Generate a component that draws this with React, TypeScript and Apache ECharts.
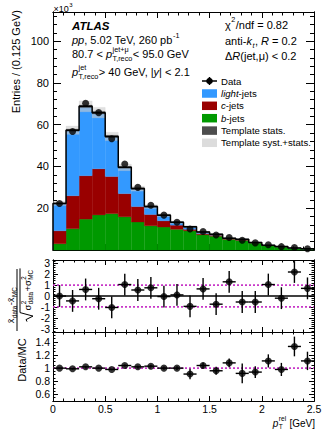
import React, { useEffect, useRef } from "react";
import * as echarts from "echarts";

// ---------------- data ----------------
const binCenters = [0.0625, 0.1875, 0.3125, 0.4375, 0.5625, 0.6875, 0.8125, 0.9375, 1.0625, 1.1875,
  1.3125, 1.4375, 1.5625, 1.6875, 1.8125, 1.9375, 2.0625, 2.1875, 2.3125, 2.4375];
const binHalf = 0.0625;

// entries in units of 10^3
const dataCounts = [22.3, 56.8, 70.3, 65.8, 53.3, 41.2, 30.0, 21.4, 16.7, 13.3, 10.1, 8.9, 7.2, 6.0, 4.7, 3.4, 2.5, 1.6, 1.2, 0.6];
const bJets = [3.0, 10.2, 14.8, 16.8, 17.4, 15.9, 13.4, 11.6, 11.0, 9.9, 9.2, 7.3, 6.6, 5.1, 4.6, 3.3, 2.1, 1.5, 0.8, 0.5];
const cJets = [6.2, 15.8, 20.8, 22.1, 17.8, 11.1, 7.4, 5.4, 3.0, 2.0, 0.7, 0.6, 0.5, 0.3, 0.3, 0.2, 0.1, 0.1, 0.05, 0.02];
const lightJets = [13.1, 31.4, 33.2, 26.9, 19.2, 12.6, 8.6, 3.8, 2.7, 1.4, 1.2, 0.7, 0.4, 0.2, 0.2, 0.1, 0.05, 0.03, 0.05, 0.02];
const templStatErr = [0.3, 0.5, 0.6, 0.6, 0.5, 0.45, 0.4, 0.35, 0.3, 0.28, 0.25, 0.22, 0.2, 0.18, 0.16, 0.14, 0.12, 0.1, 0.08, 0.06];
const templSystErr = [1.0, 2.0, 2.6, 2.5, 2.0, 1.6, 1.2, 0.9, 0.7, 0.6, 0.5, 0.4, 0.35, 0.3, 0.25, 0.2, 0.15, 0.12, 0.1, 0.08];

const pullValues = [0.0, -0.45, 0.6, -0.25, -1.05, 1.05, 0.55, 0.75, -0.05, 0.1, -0.95, 0.65, -0.75, 1.3, -0.55, -0.55, 1.05, -0.2, 2.2, 0.7];
const pullErrors = [1, 1, 1, 1, 1, 1, 1, 1, 1, 1, 1, 1, 1, 1, 1, 1, 1, 1, 1, 1];

const ratioValues = [1.0, 0.99, 1.02, 1.0, 0.98, 1.04, 1.02, 1.03, 1.0, 1.0, 0.91, 1.04, 0.96, 1.08, 0.92, 0.94, 1.11, 0.98, 1.33, 1.11];
const ratioErrors = [0.01, 0.01, 0.01, 0.01, 0.012, 0.015, 0.018, 0.02, 0.025, 0.03, 0.08, 0.045, 0.06, 0.065, 0.15, 0.09, 0.1, 0.1, 0.15, 0.14];

const pullTicks = [-3, -2, -1, 0, 1, 2, 3];
const ratioTicks = [0.6, 0.8, 1, 1.2, 1.4];

// ---------------- styling ----------------
const FAM = '"Liberation Sans"';
const C_LIGHT = "#3399ff";
const C_C = "#990000";
const C_B = "#009900";
const C_STAT = "rgba(60,60,60,0.85)";
const C_SYST = "rgba(205,205,205,0.6)";
const C_MAG = "#c837c8";

let _ctx: CanvasRenderingContext2D | null = null;
function measure(text: string, font: string): number {
  if (!_ctx) _ctx = document.createElement("canvas").getContext("2d");
  _ctx!.font = font;
  return _ctx!.measureText(text).width;
}
function fnt(size: number, italic?: boolean, bold?: boolean) {
  return `${italic ? "italic " : ""}${bold ? "bold " : ""}${size}px ${FAM}`;
}
function txt(x: number, y: number, text: string, font: string) {
  return { type: "text", x, y, style: { text, font, fill: "#000", align: "left", verticalAlign: "middle" } };
}
type Seg = { t: string; i?: boolean; b?: boolean; sup?: string; sub?: string; si?: boolean };
function layout(segs: Seg[], size: number) {
  const els: any[] = [];
  let cx = 0;
  const ss = size * 0.66;
  for (const s of segs) {
    const f = fnt(size, s.i, s.b);
    els.push(txt(cx, 0, s.t, f));
    cx += measure(s.t, f);
    if (s.sup || s.sub) {
      let w = 0;
      const sf = fnt(ss, s.si);
      if (s.sup) { els.push(txt(cx + 0.5, -size * 0.42, s.sup, sf)); w = Math.max(w, measure(s.sup, sf)); }
      if (s.sub) { els.push(txt(cx + 0.5, size * 0.38, s.sub, sf)); w = Math.max(w, measure(s.sub, sf)); }
      cx += w + 1;
    }
  }
  return { els, width: cx };
}
function place(segs: Seg[], size: number, x: number, y: number, align = "left") {
  const { els, width } = layout(segs, size);
  const dx = align === "right" ? -width : align === "center" ? -width / 2 : 0;
  return { type: "group", x: x + dx, y, children: els, z: 100 };
}
function placeRot(segs: Seg[], size: number, X: number, Y: number, align = "center", ly = 0) {
  const { els, width } = layout(segs, size);
  const dx = align === "right" ? -width : align === "center" ? -width / 2 : 0;
  return { type: "group", x: X, y: Y, rotation: Math.PI / 2, z: 100, children: [{ type: "group", x: dx, y: ly, children: els }] };
}

function buildGraphic() {
  const els: any[] = [];
  // header, left
  els.push(place([{ t: "×10", sup: "3" }], 9, 53.5, 9));
  els.push(place([{ t: "ATLAS", i: true, b: true }], 11.5, 72, 25.5));
  els.push(place([{ t: "pp", i: true }, { t: ", 5.02 TeV, 260 pb", sup: "-1" }], 11, 72, 40));
  els.push(place([{ t: "80.7 < " }, { t: "p", i: true, sup: "jet+μ", sub: "T,reco" }, { t: "< 95.0 GeV" }], 11, 72, 54));
  els.push(place([{ t: "p", i: true, sup: "jet", sub: "T,reco" }, { t: "> 40 GeV, |" }, { t: "y", i: true }, { t: "| < 2.1" }], 11, 72, 72));
  // header, right
  els.push(place([{ t: "χ", sup: "2" }, { t: "/ndf = 0.82" }], 11, 225, 24.5));
  els.push(place([{ t: "anti-" }, { t: "k", i: true, sub: "t", si: true }, { t: ", " }, { t: "R", i: true }, { t: " = 0.2" }], 11, 225, 41));
  els.push(place([{ t: "Δ" }, { t: "R", i: true }, { t: "(jet,μ) < 0.2" }], 11, 225, 55.5));

  // legend
  const lx = 202, lw = 15, lh = 8.5, tx = 221, ls = 9.6;
  const rows = [81, 93.5, 105.8, 118.2, 130.6, 142.8];
  els.push({ type: "line", z: 100, shape: { x1: lx, y1: rows[0], x2: lx + lw, y2: rows[0] }, style: { stroke: "#000", lineWidth: 1.5 } });
  els.push({ type: "line", z: 100, shape: { x1: lx + lw / 2, y1: rows[0] - 4, x2: lx + lw / 2, y2: rows[0] + 4 }, style: { stroke: "#000", lineWidth: 1.5 } });
  els.push({ type: "circle", z: 101, shape: { cx: lx + lw / 2, cy: rows[0], r: 3.3 }, style: { fill: "#000" } });
  els.push(place([{ t: "Data" }], ls, tx, rows[0]));
  const boxes: [string, Seg[]][] = [
    [C_LIGHT, [{ t: "light", i: true }, { t: "-jets" }]],
    [C_C, [{ t: "c", i: true }, { t: "-jets" }]],
    [C_B, [{ t: "b", i: true }, { t: "-jets" }]],
    ["#4d4d4d", [{ t: "Template stats." }]],
    ["#dcdcdc", [{ t: "Template syst.+stats." }]],
  ];
  boxes.forEach(([col, segs], k) => {
    const y = rows[k + 1];
    els.push({ type: "rect", z: 100, shape: { x: lx, y: y - lh / 2, width: lw, height: lh }, style: { fill: col } });
    els.push(place(segs, ls, tx, y));
  });

  // axis titles
  els.push(placeRot([{ t: "Entries / (0.125 GeV)" }], 11, 15.5, 10, "right"));
  els.push(placeRot([{ t: "Data/MC" }], 11, 22, 360, "center"));
  els.push(place([{ t: "p", i: true, sup: "rel", sub: "T" }, { t: " [GeV]" }], 10, 315, 423, "right"));

  // pull title: fraction, rotated
  const num = layout([{ t: "x̄", sub: "data" }, { t: "-" }, { t: "x̄", sub: "MC" }], 9.5);
  const den = layout([{ t: "σ", sup: "2", sub: "data" }, { t: "+" }, { t: "σ", sup: "2", sub: "MC" }], 9.5);
  const numX = -5 - num.width / 2;
  const denX = 10 - den.width / 2;
  const denEnd = denX + den.width;
  els.push({
    type: "group", x: 17, y: 300, rotation: Math.PI / 2, z: 100,
    children: [
      { type: "group", x: numX, y: -6.5, children: num.els },
      { type: "line", shape: { x1: -31, y1: 0, x2: 31, y2: 0 }, style: { stroke: "#000", lineWidth: 1 } },
      { type: "group", x: denX, y: 10, children: den.els },
      {
        type: "polyline",
        shape: { points: [[denX - 11, 10], [denX - 9, 9], [denX - 5.5, 16], [denX - 2, 3], [denEnd + 1, 3]] },
        style: { stroke: "#000", lineWidth: 1, fill: "none" },
      },
    ],
  });
  return els;
}

// ---------------- axes ----------------
const black = { color: "#000", width: 1 };

function xAxesFor(g: number, labels: boolean, major: number, minor: number) {
  const base = { type: "value", gridIndex: g, min: 0, max: 2.5, splitLine: { show: false }, axisLine: { show: true, onZero: false, lineStyle: black } };
  const mk = (pos: string, interval: number, len: number, lab: boolean) => ({
    ...base, position: pos, interval,
    axisTick: { show: true, inside: true, length: len, lineStyle: black },
    axisLabel: lab ? { show: true, margin: 2, color: "#000", fontSize: 10.5, fontFamily: FAM } : { show: false },
  });
  return [mk("bottom", 0.5, major, labels), mk("bottom", 0.1, minor, false), mk("top", 0.5, major, false), mk("top", 0.1, minor, false)];
}

function yAxesMain() {
  const base = { type: "value", gridIndex: 0, min: 0, max: 114, splitLine: { show: false }, axisLine: { show: true, onZero: false, lineStyle: black } };
  const mk = (pos: string, interval: number, len: number, lab: boolean) => ({
    ...base, position: pos, interval,
    axisTick: { show: true, inside: true, length: len, lineStyle: black },
    axisLabel: lab
      ? { show: true, margin: 4, color: "#000", fontSize: 11, fontFamily: FAM, formatter: (v: number) => (v > 0 && v <= 100 ? String(v) : "") }
      : { show: false },
  });
  return [mk("left", 20, 8, true), mk("left", 4, 4, false), mk("right", 20, 8, false), mk("right", 4, 4, false)];
}

function yAxesCustom(g: number, min: number, max: number, majors: number[], minors: number[]) {
  const base = { type: "value", gridIndex: g, min, max, splitLine: { show: false }, axisLine: { show: true, onZero: false, lineStyle: black } };
  const mk = (pos: string, vals: number[], len: number, lab: boolean) => ({
    ...base, position: pos,
    axisTick: { show: true, inside: true, length: len, lineStyle: black, customValues: vals },
    axisLabel: lab
      ? { show: true, margin: 3, color: "#000", fontSize: 10.5, fontFamily: FAM, customValues: vals }
      : { show: false, customValues: vals },
  });
  return [mk("left", majors, 5, true), mk("left", minors, 2.5, false), mk("right", majors, 5, false), mk("right", minors, 2.5, false)];
}

function buildOption() {
  const pullMinor: number[] = [];
  for (let k = -16; k <= 16; k++) pullMinor.push(+(k * 0.2).toFixed(2));
  const ratioMinor: number[] = [];
  for (let k = 10; k <= 31; k++) ratioMinor.push(+(k * 0.05).toFixed(2));

  const total = binCenters.map((_, i) => bJets[i] + cJets[i] + lightJets[i]);

  const rectItem = (fill: string) => (params: any, api: any) => {
    const p0 = api.coord([api.value(0), api.value(3)]);
    const p1 = api.coord([api.value(1), api.value(2)]);
    return {
      type: "rect",
      shape: { x: p0[0], y: p0[1], width: p1[0] - p0[0], height: p1[1] - p0[1] },
      style: { fill, stroke: fill, lineWidth: 0.3 },
    };
  };
  const errItem = (params: any, api: any) => {
    const x = api.value(0), y = api.value(1), ex = api.value(2), ey = api.value(3);
    const a = api.coord([x - ex, y]), b = api.coord([x + ex, y]);
    const c = api.coord([x, y - ey]), d = api.coord([x, y + ey]);
    return {
      type: "group",
      children: [
        { type: "line", shape: { x1: a[0], y1: a[1], x2: b[0], y2: b[1] }, style: { stroke: "#000", lineWidth: 1.4 } },
        { type: "line", shape: { x1: c[0], y1: c[1], x2: d[0], y2: d[1] }, style: { stroke: "#000", lineWidth: 1.4 } },
      ],
    };
  };
  const rectSeries = (name: string, data: number[][], fill: string, z: number) => ({
    name, type: "custom", xAxisIndex: 0, yAxisIndex: 0, z,
    renderItem: rectItem(fill), encode: { x: [0, 1], y: [2, 3] }, data,
  });

  const bData = binCenters.map((c, i) => [c - binHalf, c + binHalf, 0, bJets[i]]);
  const cData = binCenters.map((c, i) => [c - binHalf, c + binHalf, bJets[i], bJets[i] + cJets[i]]);
  const lData = binCenters.map((c, i) => [c - binHalf, c + binHalf, bJets[i] + cJets[i], total[i]]);
  const systData = binCenters.map((c, i) => [c - binHalf, c + binHalf, total[i] - templSystErr[i], total[i] + templSystErr[i]]);
  const statData = binCenters.map((c, i) => [c - binHalf, c + binHalf, total[i] - templStatErr[i], total[i] + templStatErr[i]]);

  const stepData: number[][] = [[0, 0]];
  binCenters.forEach((c, i) => stepData.push([c - binHalf, total[i]]));
  stepData.push([2.5, total[total.length - 1]]);
  stepData.push([2.5, 0]);

  const hline = (g: number, v: number, color: string, type: any, width: number) => ({
    type: "line", xAxisIndex: 4 * g, yAxisIndex: 4 * g, symbol: "none", z: 3,
    data: [[0, v], [2.5, v]], lineStyle: { color, type, width },
  });

  return {
    animation: false,
    backgroundColor: "#fff",
    grid: [
      { left: 53, top: 12, width: 261, height: 238, containLabel: false, outerBoundsMode: "none" },
      { left: 53, top: 260, width: 261, height: 72, containLabel: false, outerBoundsMode: "none" },
      { left: 53, top: 332, width: 261, height: 69, containLabel: false, outerBoundsMode: "none" },
    ],
    xAxis: [...xAxesFor(0, false, 6, 3.5), ...xAxesFor(1, false, 5, 2.5), ...xAxesFor(2, true, 5, 2.5)],
    yAxis: [
      ...yAxesMain(),
      ...yAxesCustom(1, -3.3, 3.3, pullTicks, pullMinor),
      ...yAxesCustom(2, 0.5, 1.55, ratioTicks, ratioMinor),
    ],
    series: [
      rectSeries("b-jets", bData, C_B, 1),
      rectSeries("c-jets", cData, C_C, 1),
      rectSeries("light-jets", lData, C_LIGHT, 1),
      rectSeries("Template syst.+stats.", systData, C_SYST, 2),
      rectSeries("Template stats.", statData, C_STAT, 3),
      {
        name: "MC total", type: "line", xAxisIndex: 0, yAxisIndex: 0, step: "end", symbol: "none", z: 4,
        data: stepData, lineStyle: { color: "#000", width: 1.5 },
      },
      {
        name: "Data", type: "scatter", xAxisIndex: 0, yAxisIndex: 0, z: 5, symbol: "circle", symbolSize: 7,
        itemStyle: { color: "#000" }, data: binCenters.map((c, i) => [c, dataCounts[i]]),
      },
      // pull panel
      hline(1, 0, "#000", "solid", 1.5),
      hline(1, 1, C_MAG, [2, 2], 1.6),
      hline(1, -1, C_MAG, [2, 2], 1.6),
      {
        type: "custom", xAxisIndex: 4, yAxisIndex: 4, z: 5, renderItem: errItem, encode: { x: 0, y: 1 },
        data: binCenters.map((c, i) => [c, pullValues[i], binHalf, pullErrors[i]]),
      },
      {
        type: "scatter", xAxisIndex: 4, yAxisIndex: 4, z: 6, symbol: "circle", symbolSize: 7,
        itemStyle: { color: "#000" }, data: binCenters.map((c, i) => [c, pullValues[i]]),
      },
      // ratio panel
      hline(2, 1, C_MAG, [2, 2], 1.6),
      {
        type: "custom", xAxisIndex: 8, yAxisIndex: 8, z: 5, renderItem: errItem, encode: { x: 0, y: 1 },
        data: binCenters.map((c, i) => [c, ratioValues[i], binHalf, ratioErrors[i]]),
      },
      {
        type: "scatter", xAxisIndex: 8, yAxisIndex: 8, z: 6, symbol: "circle", symbolSize: 7,
        itemStyle: { color: "#000" }, data: binCenters.map((c, i) => [c, ratioValues[i]]),
      },
    ],
    graphic: { elements: buildGraphic() },
  };
}

export default function App() {
  const ref = useRef<HTMLDivElement>(null);
  useEffect(() => {
    const chart = echarts.init(ref.current!, null, { renderer: "svg" });
    chart.setOption(buildOption() as any);
    return () => chart.dispose();
  }, []);
  return <div ref={ref} style={{ position: "absolute", left: 0, top: 0, width: 332, height: 431 }} />;
}
